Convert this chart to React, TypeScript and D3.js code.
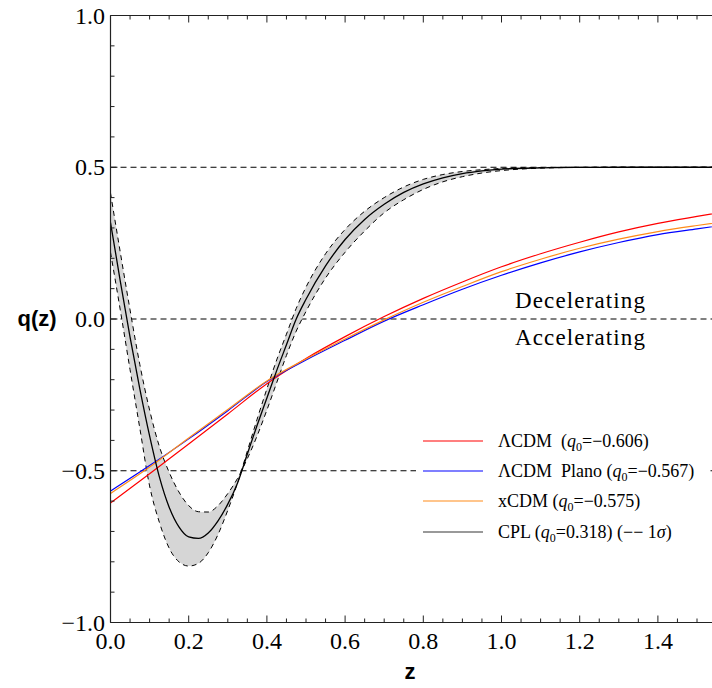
import React from "react";
import * as d3 from "d3";

// ---- Data ----
const zL = [0, 0.1, 0.2, 0.3, 0.4, 0.5, 0.6, 0.7, 0.8, 0.9, 1.0, 1.1, 1.2, 1.3, 1.4, 1.5, 1.6];
const qLCDM = [-0.606, -0.51, -0.412, -0.313, -0.213, -0.13, -0.058, 0.008, 0.068, 0.122, 0.172, 0.215, 0.253, 0.287, 0.315, 0.338, 0.36];
const qPlano = [-0.567, -0.483, -0.395, -0.302, -0.206, -0.135, -0.07, -0.007, 0.047, 0.098, 0.144, 0.185, 0.221, 0.252, 0.278, 0.297, 0.315];
const qXCDM = [-0.575, -0.488, -0.392, -0.298, -0.204, -0.132, -0.066, -0.003, 0.055, 0.107, 0.156, 0.197, 0.233, 0.263, 0.288, 0.308, 0.326];

const zC = [0, 0.025, 0.05, 0.075, 0.1, 0.125, 0.15, 0.175, 0.2, 0.225, 0.25, 0.275, 0.3, 0.325, 0.35, 0.375, 0.4, 0.425, 0.45, 0.475, 0.5,
  0.55, 0.6, 0.65, 0.7, 0.75, 0.8, 0.85, 0.9, 0.95, 1.0, 1.1, 1.2, 1.3, 1.4, 1.5, 1.6];
const qCPL = [0.318, 0.125, -0.06, -0.23, -0.385, -0.52, -0.62, -0.685, -0.718, -0.723, -0.705, -0.665, -0.61, -0.54, -0.445, -0.35, -0.26, -0.17, -0.085, 0.0, 0.065,
  0.175, 0.262, 0.328, 0.378, 0.417, 0.445, 0.465, 0.479, 0.488, 0.494, 0.498, 0.4995, 0.5, 0.5, 0.5, 0.5];
const qCPLa = [0.22, 0.03, -0.167, -0.36, -0.55, -0.67, -0.755, -0.8, -0.814, -0.805, -0.77, -0.71, -0.63, -0.54, -0.435, -0.33, -0.23, -0.135, -0.05, 0.035, 0.105,
  0.215, 0.295, 0.355, 0.4, 0.435, 0.46, 0.476, 0.486, 0.492, 0.496, 0.499, 0.5, 0.5, 0.5, 0.5, 0.5];
const qCPLb = [0.415, 0.22, 0.03, -0.15, -0.3, -0.42, -0.505, -0.57, -0.615, -0.635, -0.636, -0.615, -0.575, -0.525, -0.46, -0.385, -0.3, -0.21, -0.12, -0.04, 0.025,
  0.135, 0.22, 0.29, 0.35, 0.393, 0.427, 0.452, 0.469, 0.481, 0.489, 0.497, 0.4995, 0.5, 0.5, 0.5, 0.5];

const xTicks = [0, 0.2, 0.4, 0.6, 0.8, 1.0, 1.2, 1.4];
const yTicks = [-1, -0.5, 0, 0.5, 1];
const refLines = [0.5, 0, -0.5];

const legendItems = [
  { color: "#ff0000", name: "\u039BCDM\u00A0\u00A0(", q0: "\u22120.606)", extra: "" },
  { color: "#0000ff", name: "\u039BCDM\u00A0\u00A0Plano (", q0: "\u22120.567)", extra: "" },
  { color: "#ff8c1a", name: "xCDM (", q0: "\u22120.575)", extra: "" },
  { color: "#777777", name: "CPL (", q0: "0.318)", extra: " (\u2212\u2212 1" },
];

export default function App() {
  const W = 712, H = 688;
  const x0 = 110.5;
  const x = d3.scaleLinear().domain([0, 1.6]).range([x0, x0 + 1.6 * 391]);
  const y = d3.scaleLinear().domain([-1, 1]).range([622.5, 15.5]);
  const left = x0, right = W + 30, top = y(1), bottom = y(-1);

  const line = (zs: number[], qs: number[]) =>
    d3.line<number>().x((_, i) => x(zs[i])).y((d) => y(d)).curve(d3.curveMonotoneX)(qs) || "";
  const band =
    d3.area<number>()
      .x((_, i) => x(zC[i]))
      .y0((d) => y(d))
      .y1((_, i) => y(qCPLb[i]))
      .curve(d3.curveMonotoneX)(qCPLa) || "";

  const xMinor = d3.range(0, 1.61, 0.05).filter((v) => Math.abs(Math.round(v / 0.2) * 0.2 - v) > 1e-6);
  const yMinor = d3.range(-1, 1.001, 0.1).filter((v) => Math.abs(Math.round(v / 0.5) * 0.5 - v) > 1e-6);
  const fmt = (v: number) => (v < 0 ? "\u2212" : "") + Math.abs(v).toFixed(1);
  const serif = "Liberation Serif";
  const sans = "Liberation Sans";
  const axisColor = "#222";

  const lx0 = 423, lx1 = 483, ltx = 498;
  const rowY = [441, 471, 501, 532];

  return (
    <svg width={W} height={H} style={{ position: "absolute", left: 0, top: 0, background: "#fff" }}>
      <defs>
        <clipPath id="plot">
          <rect x={left} y={top} width={right - left} height={bottom - top} />
        </clipPath>
      </defs>
      <rect x={0} y={0} width={W} height={H} fill="#fff" />
      <g clipPath="url(#plot)">
        {refLines.map((v) => (
          <line key={v} x1={left} x2={right} y1={y(v)} y2={y(v)} stroke="#000" strokeWidth={1} strokeDasharray="6,4" />
        ))}
        <path d={band} fill="#d6d6d6" stroke="none" />
        <path d={line(zC, qCPLa)} fill="none" stroke="#000" strokeWidth={1} strokeDasharray="5,4" />
        <path d={line(zC, qCPLb)} fill="none" stroke="#000" strokeWidth={1} strokeDasharray="5,4" />
        <path d={line(zL, qLCDM)} fill="none" stroke="#ff0000" strokeWidth={1.2} />
        <path d={line(zL, qPlano)} fill="none" stroke="#0000ff" strokeWidth={1.2} />
        <path d={line(zL, qXCDM)} fill="none" stroke="#ff8c1a" strokeWidth={1.2} />
        <path d={line(zC, qCPL)} fill="none" stroke="#000" strokeWidth={1.3} />
      </g>

      {/* Regime labels */}
      <text x={515} y={308} style={{ fontFamily: serif }} fontSize={23} textLength={130} lengthAdjust="spacing">Decelerating</text>
      <text x={515} y={345} style={{ fontFamily: serif }} fontSize={23} textLength={130} lengthAdjust="spacing">Accelerating</text>

      {/* Legend */}
      <rect x={416} y={424} width={292} height={124} fill="#fff" />
      {legendItems.map((it, i) => (
        <g key={i}>
          <line x1={lx0} x2={lx1} y1={rowY[i]} y2={rowY[i]} stroke={it.color} strokeWidth={i === 3 ? 1.6 : 1.2} />
          <text x={ltx} y={rowY[i] + 6} style={{ fontFamily: serif }} fontSize={18}>
            {it.name}
            <tspan fontStyle="italic">q</tspan>
            <tspan fontSize={12} dy={4}>0</tspan>
            <tspan dy={-4}>={it.q0}</tspan>
            {it.extra && <tspan>{it.extra}</tspan>}
            {it.extra && <tspan fontStyle="italic">{"\u03C3"}</tspan>}
            {it.extra && <tspan>)</tspan>}
          </text>
        </g>
      ))}

      {/* Axes frame */}
      <line x1={left} x2={left} y1={top} y2={bottom} stroke={axisColor} strokeWidth={1.2} />
      <line x1={left} x2={W} y1={bottom} y2={bottom} stroke={axisColor} strokeWidth={1.2} />
      <line x1={left} x2={W} y1={top} y2={top} stroke={axisColor} strokeWidth={1.2} />

      {/* X ticks */}
      {xTicks.map((v) => (
        <g key={"x" + v}>
          <line x1={x(v)} x2={x(v)} y1={bottom} y2={bottom - 7} stroke={axisColor} />
          <line x1={x(v)} x2={x(v)} y1={top} y2={top + 7} stroke={axisColor} />
          <text x={x(v)} y={649} textAnchor="middle" style={{ fontFamily: serif }} fontSize={24}>{fmt(v)}</text>
        </g>
      ))}
      {xMinor.map((v) => (
        <g key={"xm" + v}>
          <line x1={x(v)} x2={x(v)} y1={bottom} y2={bottom - 4} stroke={axisColor} />
          <line x1={x(v)} x2={x(v)} y1={top} y2={top + 4} stroke={axisColor} />
        </g>
      ))}
      {/* Y ticks */}
      {yTicks.map((v) => (
        <g key={"y" + v}>
          <line x1={left} x2={left + 7} y1={y(v)} y2={y(v)} stroke={axisColor} />
          <text x={105} y={y(v) + 8} textAnchor="end" style={{ fontFamily: serif }} fontSize={24}>{fmt(v)}</text>
        </g>
      ))}
      {yMinor.map((v) => (
        <line key={"ym" + v} x1={left} x2={left + 4} y1={y(v)} y2={y(v)} stroke={axisColor} />
      ))}

      {/* Axis titles */}
      <text x={37} y={y(0) + 7} textAnchor="middle" style={{ fontFamily: sans }} fontWeight="bold" fontSize={22}>q(z)</text>
      <text x={410} y={679} textAnchor="middle" style={{ fontFamily: sans }} fontWeight="bold" fontSize={22}>z</text>
    </svg>
  );
}
